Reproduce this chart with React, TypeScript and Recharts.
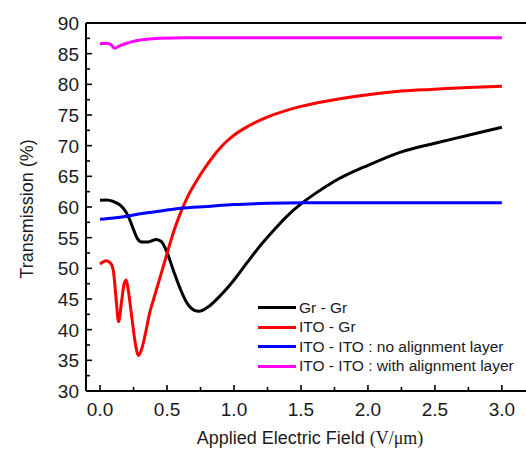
import { LineChart, Line, XAxis, YAxis, ReferenceLine, Legend } from 'recharts';

// Applied field (V/um) and transmission (%)
const grGrX = [0, 0.05, 0.1, 0.15, 0.19, 0.22, 0.25, 0.28, 0.31, 0.36, 0.42, 0.46, 0.5, 0.55, 0.6, 0.65, 0.7, 0.74, 0.8, 0.9, 1.0, 1.1, 1.2, 1.3, 1.4, 1.5, 1.6, 1.75, 2.0, 2.25, 2.5, 2.75, 3.0];
const grGrY = [61.1, 61.15, 60.9, 60.3, 59.3, 58.0, 56.3, 54.8, 54.3, 54.3, 54.7, 54.3, 52.6, 49.5, 46.6, 44.3, 43.2, 43.0, 43.6, 45.6, 48.1, 51.0, 53.8, 56.3, 58.6, 60.5, 62.1, 64.2, 66.8, 69.0, 70.4, 71.7, 73.0];

const itoGrX = [0, 0.045, 0.08, 0.1, 0.12, 0.138, 0.16, 0.18, 0.195, 0.21, 0.24, 0.265, 0.287, 0.31, 0.34, 0.37, 0.4, 0.43, 0.5, 0.55, 0.6, 0.65, 0.7, 0.75, 0.8, 0.85, 0.9, 0.95, 1.0, 1.1, 1.2, 1.3, 1.4, 1.5, 1.75, 2.0, 2.25, 2.5, 2.75, 3.0];
const itoGrY = [50.7, 51.25, 50.8, 49.5, 45.0, 41.3, 44.5, 47.5, 48.1, 46.5, 41.5, 37.5, 35.8, 36.8, 39.5, 42.7, 45.0, 47.2, 52.4, 56.0, 59.0, 61.5, 63.5, 65.3, 66.9, 68.4, 69.7, 70.8, 71.7, 73.1, 74.2, 75.1, 75.8, 76.4, 77.5, 78.3, 78.9, 79.2, 79.5, 79.7];

const noAlignX = [0, 0.1, 0.2, 0.3, 0.4, 0.5, 0.6, 0.8, 1.0, 1.25, 1.5, 2.0, 2.5, 3.0];
const noAlignY = [58.0, 58.2, 58.5, 58.9, 59.2, 59.5, 59.8, 60.1, 60.4, 60.6, 60.7, 60.7, 60.7, 60.7];

const withAlignX = [0, 0.045, 0.08, 0.107, 0.15, 0.2, 0.27, 0.35, 0.45, 0.65, 1.0, 2.0, 3.0];
const withAlignY = [86.6, 86.7, 86.5, 85.9, 86.3, 86.7, 87.1, 87.35, 87.5, 87.6, 87.6, 87.6, 87.6];

const xTicks = [0, 0.25, 0.5, 0.75, 1.0, 1.25, 1.5, 1.75, 2.0, 2.25, 2.5, 2.75, 3.0];
const yTicks = [30, 32.5, 35, 37.5, 40, 42.5, 45, 47.5, 50, 52.5, 55, 57.5, 60, 62.5, 65, 67.5, 70, 72.5, 75, 77.5, 80, 82.5, 85, 87.5, 90];

const zip = (xs: number[], ys: number[]) => xs.map((x, i) => ({ x, t: ys[i] }));

const series = [
  { name: 'Gr - Gr', color: '#000000', data: zip(grGrX, grGrY) },
  { name: 'ITO - Gr', color: '#ff0000', data: zip(itoGrX, itoGrY) },
  { name: 'ITO - ITO : no alignment layer', color: '#0000ff', data: zip(noAlignX, noAlignY) },
  { name: 'ITO - ITO : with alignment layer', color: '#ff00ff', data: zip(withAlignX, withAlignY) },
];

const FONT = 'Arial, "Liberation Sans", Helvetica, sans-serif';
const SERIF = '"Liberation Serif", "Times New Roman", serif';
const TEXT = '#1a1a1a';
const Y_GAP = 7;
const X_GAP = 9;

const YTick = (props: any) => {
  const { x, y, payload } = props;
  const v = payload.value;
  const major = v % 5 === 0;
  const ax = x + Y_GAP;
  return (
    <g>
      <line x1={ax} x2={ax + (major ? 6 : 4)} y1={y} y2={y} stroke="#000" strokeWidth={1.6} />
      {major && (
        <text x={x} y={y} dy="0.36em" textAnchor="end" fontSize={19} fontFamily={FONT} fill={TEXT}>
          {v}
        </text>
      )}
    </g>
  );
};

const XTick = (props: any) => {
  const { x, y, payload } = props;
  const v = payload.value;
  const major = Math.abs(v * 2 - Math.round(v * 2)) < 1e-6;
  const ay = y - X_GAP;
  return (
    <g>
      <line x1={x} x2={x} y1={ay} y2={ay - (major ? 6 : 4)} stroke="#000" strokeWidth={1.6} />
      {major && (
        <text x={x} y={y} dy={16} textAnchor="middle" fontSize={19} fontFamily={FONT} fill={TEXT}>
          {v.toFixed(1)}
        </text>
      )}
    </g>
  );
};

const renderYLabel = (props: any) => {
  const vb = props.viewBox;
  const cx = vb.x + 27;
  const cy = vb.y + vb.height / 2 + 2;
  return (
    <text x={cx} y={cy} transform={`rotate(-90, ${cx}, ${cy})`} textAnchor="middle" dy="0.35em" fontSize={18} fontFamily={FONT} fill={TEXT}>
      Transmission (%)
    </text>
  );
};

const renderXLabel = (props: any) => {
  const vb = props.viewBox;
  return (
    <text x={vb.x + vb.width / 2 + 4} y={vb.y + 53} textAnchor="middle" fontSize={18} fontFamily={FONT} fill={TEXT}>
      Applied Electric Field <tspan fontFamily={SERIF}>(V/μm)</tspan>
    </text>
  );
};

const renderLegend = (props: any) => {
  const { payload } = props;
  return (
    <div style={{ fontFamily: FONT, fontSize: 15.5, color: TEXT }}>
      {(payload || []).map((entry: any) => (
        <div key={entry.value} style={{ display: 'flex', alignItems: 'center', height: 19.5, whiteSpace: 'nowrap' }}>
          <div style={{ width: 38, height: 3, background: entry.color, marginRight: 3 }} />
          <span>{entry.value}</span>
        </div>
      ))}
    </div>
  );
};

export default function App() {
  return (
    <div style={{ position: 'absolute', left: 0, top: 0, background: '#fff', fontFamily: FONT }}>
      <LineChart width={526} height={454} margin={{ top: 23, right: 0, bottom: 0, left: 0 }}>
        <XAxis
          type="number"
          dataKey="x"
          domain={[-0.105, 3.18]}
          allowDataOverflow
          ticks={xTicks}
          interval={0}
          height={63}
          tickSize={0}
          tickMargin={X_GAP}
          tickLine={false}
          tick={<XTick />}
          axisLine={{ stroke: '#000', strokeWidth: 2 }}
          label={{ content: renderXLabel }}
        />
        <YAxis
          type="number"
          domain={[30, 90]}
          allowDataOverflow
          ticks={yTicks}
          interval={0}
          width={86}
          tickSize={0}
          tickMargin={Y_GAP}
          tickLine={false}
          tick={<YTick />}
          axisLine={{ stroke: '#000', strokeWidth: 2 }}
          label={{ content: renderYLabel }}
        />
        <ReferenceLine y={90} stroke="#000" strokeWidth={2} />
        <Legend
          layout="horizontal"
          verticalAlign="middle"
          align="center"
          content={renderLegend}
          wrapperStyle={{ position: 'absolute', left: 258, top: 298, width: 268, height: 80 }}
        />
        {series.map((s) => (
          <Line
            key={s.name}
            name={s.name}
            data={s.data}
            dataKey="t"
            type="monotone"
            stroke={s.color}
            strokeWidth={3}
            dot={false}
            activeDot={false}
            isAnimationActive={false}
          />
        ))}
      </LineChart>
    </div>
  );
}
